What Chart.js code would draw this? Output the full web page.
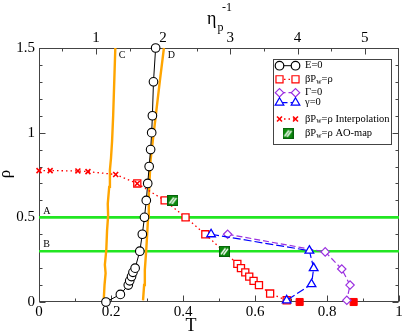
<!DOCTYPE html>
<html><head><meta charset="utf-8">
<script src="https://cdn.jsdelivr.net/npm/chart.js@4/dist/chart.umd.min.js"></script>
<style>html,body{margin:0;padding:0;background:#fff;}#wrap{width:407px;height:333px;}</style>
</head><body><div id="wrap"><canvas id="c" width="407" height="333"></canvas></div>
<script>
// ---- data (T, rho) ----
const T_E0   = [0.186,0.226,0.248,0.252,0.257,0.261,0.267,0.280,0.287,0.293,0.298,0.302,0.306,0.310,0.313,0.315,0.318,0.324];
const RHO_E0 = [0.00,0.045,0.10,0.125,0.15,0.175,0.20,0.30,0.40,0.50,0.60,0.70,0.80,0.90,1.00,1.10,1.30,1.50];
const T_SQ   = [0.273,0.349,0.407,0.462,0.551,0.561,0.573,0.584,0.596,0.611,0.642,0.688];
const RHO_SQ = [0.70,0.60,0.50,0.40,0.225,0.20,0.175,0.15,0.125,0.10,0.05,0.01];
const T_SQF  = [0.724,0.874];
const RHO_SQF= [0.00,0.00];
const T_GAM  = [0.524,0.795,0.841,0.864,0.855];
const RHO_GAM= [0.40,0.296,0.195,0.10,0.01];
const T_gam  = [0.478,0.751,0.763,0.757,0.688];
const RHO_gam= [0.40,0.303,0.20,0.105,0.01];
const T_X    = [0.000,0.031,0.108,0.136,0.213,0.273];
const RHO_X  = [0.776,0.776,0.774,0.770,0.753,0.70];
const T_AO   = [0.372,0.515];
const RHO_AO = [0.60,0.30];
const T_C    = [0.180,0.182,0.185,0.183,0.187,0.189,0.192,0.191,0.195,0.197,0.200,0.203,0.206,0.209,0.212];
const RHO_C  = [0.02,0.10,0.17,0.22,0.31,0.42,0.51,0.58,0.68,0.78,0.85,0.95,1.10,1.30,1.50];
const T_D    = [0.289,0.292,0.294,0.296,0.298,0.301,0.303,0.305,0.310,0.316,0.323,0.336,0.347];
const RHO_D  = [0.01,0.10,0.19,0.25,0.31,0.42,0.50,0.63,0.84,0.95,1.075,1.31,1.50];
const RHO_LINES = [0.5, 0.3];
const T_RANGE = [0, 1];
const ETA_RANGE = [0.153, 5.51];
const X_TICKS = [0,0.2,0.4,0.6,0.8,1];
const Y_TICKS = [0,0.5,1,1.5];
const ETA_TICKS = [1,2,3,4,5];

const pts = (xs, ys) => xs.map((x,i)=>({x:x, y:ys[i]}));
const SERIF = '"Liberation Serif", "DejaVu Serif", serif';
const RED='#ff0000', PURPLE='#9b30e0', BLUE='#0000ff', ORANGE='#ffa500', LIME='#22e622';
const fmt = v => String(Math.round(v*100)/100);

function makeHatch(size){
  const c=document.createElement('canvas'); c.width=c.height=size;
  const g=c.getContext('2d');
  g.fillStyle='#0c8a0c'; g.fillRect(0,0,size,size);
  g.strokeStyle='#ffffff'; g.lineWidth=1.4;
  g.beginPath(); g.moveTo(2,8.5); g.lineTo(6.5,2.5); g.stroke();
  g.beginPath(); g.moveTo(4.5,9); g.lineTo(9,3); g.stroke();
  g.strokeStyle='#05600a'; g.lineWidth=1; g.strokeRect(0.5,0.5,size-1,size-1);
  return c;
}
const HATCH = makeHatch(11);

const datasets = [
  {label:'A', data: pts(T_RANGE,[RHO_LINES[0],RHO_LINES[0]]), showLine:true, borderColor:LIME, borderWidth:2.6, pointRadius:0, order:20},
  {label:'B', data: pts(T_RANGE,[RHO_LINES[1],RHO_LINES[1]]), showLine:true, borderColor:LIME, borderWidth:2.6, pointRadius:0, order:20},
  {label:'C', data: pts(T_C,RHO_C), showLine:true, borderColor:ORANGE, borderWidth:2.4, pointRadius:0, order:19},
  {label:'D', data: pts(T_D,RHO_D), showLine:true, borderColor:ORANGE, borderWidth:2.4, pointRadius:0, order:19},
  {label:'βPw=ρ', data: pts(T_SQ,RHO_SQ), showLine:true, borderColor:RED, borderWidth:1.3, borderDash:[1.5,3],
    pointStyle:'rect', pointRadius:5, pointBorderColor:RED, pointBackgroundColor:'#fff', pointBorderWidth:1.3, order:8},
  {label:'sqf', data: pts(T_SQF,RHO_SQF), showLine:false, pointStyle:'rect', pointRadius:5, pointBorderColor:RED, pointBackgroundColor:RED, pointBorderWidth:1, order:8},
  {label:'Γ=0', data: pts(T_GAM,RHO_GAM), showLine:true, borderColor:PURPLE, borderWidth:1.2, borderDash:[6,3],
    pointStyle:'rectRot', pointRadius:4.2, pointBorderColor:PURPLE, pointBackgroundColor:'#fff', pointBorderWidth:1.2, order:7},
  {label:'γ=0', data: pts(T_gam,RHO_gam), showLine:true, borderColor:BLUE, borderWidth:1.2, borderDash:[8,3],
    pointStyle:'triangle', pointRadius:5, pointBorderColor:BLUE, pointBackgroundColor:'#fff', pointBorderWidth:1.3, order:6},
  {label:'E=0', data: pts(T_E0,RHO_E0), showLine:true, borderColor:'#000', borderWidth:1,
    pointStyle:'circle', pointRadius:4.3, pointBorderColor:'#000', pointBackgroundColor:'#fff', pointBorderWidth:1.1, order:5},
  {label:'interp', data: pts(T_X,RHO_X), showLine:true, borderColor:RED, borderWidth:1.3, borderDash:[1.5,3],
    pointStyle:'crossRot', pointRadius:3.5, pointBorderColor:RED, pointBorderWidth:1.6, order:4},
  {label:'AO', data: pts(T_AO,RHO_AO), showLine:false, pointStyle:HATCH, pointRadius:5.5, order:3}
];
datasets.forEach(d=>{d.clip=false; d.fill=false; d.tension=0;});

function drawMarker(ctx, style, r, x, y, stroke, fill, lw){
  ctx.save();
  ctx.strokeStyle=stroke; ctx.fillStyle=fill; ctx.lineWidth=lw; ctx.setLineDash([]);
  Chart.helpers.drawPoint(ctx, {pointStyle:style, radius:r, rotation:0, borderWidth:lw}, x, y);
  ctx.restore();
}
function richText(ctx, parts, x, y){
  let cx=x;
  parts.forEach(p=>{
    const size = p.s || 10.5;
    ctx.font = size+'px '+SERIF;
    ctx.fillText(p.t, cx, y + (p.dy||0));
    cx += ctx.measureText(p.t).width;
  });
}

const frame = {
  id:'frame',
  beforeDatasetsDraw(chart){
    const {ctx, chartArea:a, scales} = chart;
    ctx.save();
    ctx.strokeStyle='#444'; ctx.lineWidth=1;
    const L=Math.round(a.left)+0.5, R=Math.round(a.right)-0.5, T=Math.round(a.top)+0.5, B=Math.round(a.bottom)-0.5;
    ctx.strokeRect(L,T,R-L,B-T);
    ctx.beginPath();
    for(let v=0; v<=1.0001; v+=0.1){
      const px=Math.round(scales.x.getPixelForValue(v))+0.5;
      const len = (Math.round(v*10)%2===0)?6:3;
      ctx.moveTo(px,B); ctx.lineTo(px,B-len);
    }
    for(let v=0.5; v<=5.51; v+=0.5){
      const px=Math.round(scales.x2.getPixelForValue(v))+0.5;
      const len = (Math.abs(v-Math.round(v))<1e-6)?6:3;
      ctx.moveTo(px,T); ctx.lineTo(px,T+len);
    }
    for(let v=0; v<=1.5001; v+=0.1){
      const py=Math.round(scales.y.getPixelForValue(v))+0.5;
      const len = (Math.round(v*10)%5===0)?6:3;
      ctx.moveTo(L,py); ctx.lineTo(L+len,py);
      ctx.moveTo(R,py); ctx.lineTo(R-len,py);
    }
    ctx.stroke();
    ctx.restore();
  },
  afterDraw(chart){
    const {ctx, scales} = chart;
    const X=v=>scales.x.getPixelForValue(v), Y=v=>scales.y.getPixelForValue(v);
    ctx.save();
    ctx.fillStyle='#000';
    ctx.font='10px '+SERIF; ctx.textAlign='center'; ctx.textBaseline='middle';
    ctx.fillText('A', X(0.022), Y(0.537));
    ctx.fillText('B', X(0.021), Y(0.343));
    ctx.fillText('C', X(0.231), Y(1.459));
    ctx.fillText('D', X(0.368), Y(1.459));
    ctx.font='18px '+SERIF; ctx.textAlign='center'; ctx.textBaseline='alphabetic';
    ctx.fillText('T', 191, 331);
    ctx.save(); ctx.translate(10,174); ctx.rotate(-Math.PI/2);
    ctx.font='17px '+SERIF; ctx.textBaseline='alphabetic'; ctx.fillText('ρ',0,0); ctx.restore();
    ctx.textAlign='left';
    ctx.font='18px '+SERIF; ctx.fillText('η', 207, 24);
    ctx.font='12px '+SERIF; ctx.fillText('p', 217.5, 31);
    ctx.fillText('-1', 222, 11);
    const bx=273.5, by=59.5, bw=118, bh=85;
    ctx.fillStyle='#fff'; ctx.fillRect(bx,by,bw,bh);
    ctx.strokeStyle='#444'; ctx.lineWidth=1; ctx.strokeRect(bx,by,bw,bh);
    const x1=279.5, x2=295.5, tx=305;
    const rows=[
      {y:65.7, style:'circle', r:4.3, c:'#000', line:'#000', dash:[], lw:1, text:[{t:'E=0'}]},
      {y:79.3, style:'rect', r:5, c:RED, line:RED, dash:[1.5,3], lw:1.3, text:[{t:'βP'},{t:'w',s:7.5,dy:2.5},{t:'=ρ'}]},
      {y:92.7, style:'rectRot', r:4.2, c:PURPLE, line:PURPLE, dash:[6,3], lw:1.2, text:[{t:'Γ=0'}]},
      {y:102.7, style:'triangle', r:5, c:BLUE, line:BLUE, dash:[8,3], lw:1.2, text:[{t:'γ=0'}]},
      {y:119, style:'crossRot', r:3.5, c:RED, line:RED, dash:[1.5,3], lw:1.3, text:[{t:'βP'},{t:'w',s:7.5,dy:2.5},{t:'=ρ Interpolation'}]},
    ];
    rows.forEach(rw=>{
      ctx.save(); ctx.strokeStyle=rw.line; ctx.lineWidth=rw.lw; ctx.setLineDash(rw.dash);
      ctx.beginPath(); ctx.moveTo(x1,rw.y); ctx.lineTo(x2,rw.y); ctx.stroke(); ctx.restore();
      drawMarker(ctx, rw.style, rw.r, x1, rw.y, rw.c, '#fff', rw.style==='crossRot'?1.6:1.2);
      drawMarker(ctx, rw.style, rw.r, x2, rw.y, rw.c, '#fff', rw.style==='crossRot'?1.6:1.2);
      ctx.fillStyle='#000'; ctx.textBaseline='middle'; ctx.textAlign='left';
      richText(ctx, rw.text, tx, rw.y);
    });
    ctx.drawImage(HATCH, 288-5.5, 133.3-5.5);
    ctx.fillStyle='#000'; ctx.textBaseline='middle';
    richText(ctx, [{t:'βP'},{t:'w',s:7.5,dy:2.5},{t:'=ρ AO-map'}], tx, 133.3);
    ctx.restore();
  }
};

const tickFont = {family: SERIF, size: 15};
new Chart(document.getElementById('c'), {
  type:'scatter',
  data:{datasets},
  options:{
    responsive:false, animation:false, devicePixelRatio:1,
    layout:{padding:{left:0,right:8,top:0,bottom:0}},
    plugins:{legend:{display:false}, tooltip:{enabled:false}},
    scales:{
      x:{type:'linear', position:'bottom', min:T_RANGE[0], max:T_RANGE[1],
        afterBuildTicks:s=>{s.ticks=X_TICKS.map(v=>({value:v}));},
        afterFit:s=>{s.height=31;},
        ticks:{font:tickFont, color:'#000', padding:1, maxRotation:0, autoSkip:false, callback:fmt},
        grid:{display:false, drawTicks:false}, border:{display:false}},
      x2:{type:'linear', position:'top', min:ETA_RANGE[0], max:ETA_RANGE[1],
        afterBuildTicks:s=>{s.ticks=ETA_TICKS.map(v=>({value:v}));},
        afterFit:s=>{s.height=48;},
        ticks:{font:tickFont, color:'#000', padding:1, maxRotation:0, autoSkip:false, callback:fmt},
        grid:{display:false, drawTicks:false}, border:{display:false}},
      y:{type:'linear', position:'left', min:0, max:1.5,
        afterBuildTicks:s=>{s.ticks=Y_TICKS.map(v=>({value:v}));},
        afterFit:s=>{s.width=39;},
        ticks:{font:tickFont, color:'#000', padding:4, autoSkip:false, callback:fmt},
        grid:{display:false, drawTicks:false}, border:{display:false}}
    }
  },
  plugins:[frame]
});
</script></body></html>
